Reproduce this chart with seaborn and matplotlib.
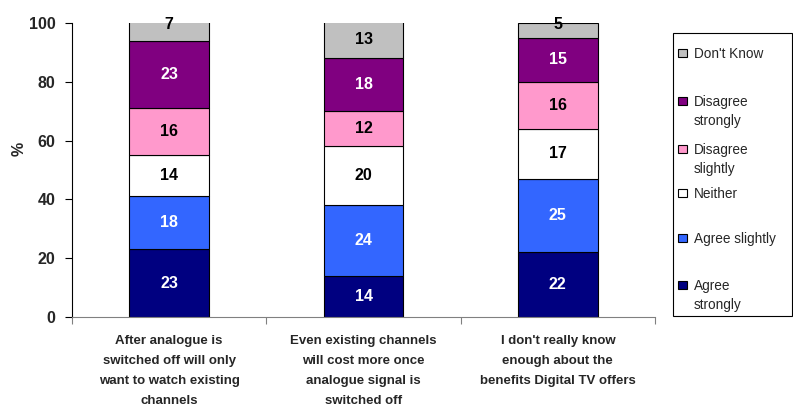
import numpy as np
import pandas as pd
import matplotlib
matplotlib.use("Agg")
import matplotlib.pyplot as plt
from matplotlib.patches import Rectangle
import seaborn as sns

categories = [
    "After analogue is\nswitched off will only\nwant to watch existing\nchannels",
    "Even existing channels\nwill cost more once\nanalogue signal is\nswitched off",
    "I don't really know\nenough about the\nbenefits Digital TV offers",
]
series_names = ["Agree strongly", "Agree slightly", "Neither",
                "Disagree slightly", "Disagree strongly", "Don't Know"]
legend_labels = ["Agree\nstrongly", "Agree slightly", "Neither",
                 "Disagree\nslightly", "Disagree\nstrongly", "Don't Know"]
agree_strongly = [23, 14, 22]
agree_slightly = [18, 24, 25]
neither = [14, 20, 17]
disagree_slightly = [16, 12, 16]
disagree_strongly = [23, 18, 15]
dont_know = [7, 13, 5]
colors = ["#000080", "#3366FF", "#FFFFFF", "#FF99CC", "#800080", "#C0C0C0"]
text_colors = ["white", "white", "black", "black", "white", "black"]
y_ticks = [0, 20, 40, 60, 80, 100]

series = [agree_strongly, agree_slightly, neither,
          disagree_slightly, disagree_strongly, dont_know]

sns.set_style("white")
plt.rcParams["font.family"] = ["Liberation Sans", "DejaVu Sans"]

W, H = 793.0, 411.0
fig = plt.figure(figsize=(W / 100, H / 100), dpi=100)
ax = fig.add_axes([72 / W, 1 - 317 / H, (655 - 72) / W, (317 - 23) / H])

bottom = np.zeros(len(categories))
top_series = len(series) - 1
for k, (name, vals, col, tcol) in enumerate(zip(series_names, series, colors, text_colors)):
    df = pd.DataFrame({"cat": categories, "val": vals})
    sns.barplot(data=df, x="cat", y="val", bottom=bottom.copy(), color=col,
                width=0.41, edgecolor="black", linewidth=0.8, ax=ax,
                saturation=1, legend=False)
    for i, v in enumerate(vals):
        y = bottom[i] + v / 2
        # thin segments at the top of a bar get their label on the top edge
        if k == top_series and v < 10:
            y = 99.5
        ax.text(i, y, f"{v}", ha="center", va="center",
                color=tcol, fontsize=11.5, fontweight="bold", clip_on=False)
    bottom += np.array(vals)

ax.set_ylim(0, 100)
ax.set_xlim(-0.5, 2.5)
ax.set_yticks(y_ticks)
ax.set_yticklabels([str(t) for t in y_ticks], fontsize=11.5, fontweight="bold")
ax.set_ylabel("%", fontsize=11.5, fontweight="bold")
ax.yaxis.set_label_coords(-0.077, 0.57)
ax.set_xlabel("")
ax.set_xticks(range(len(categories)))
ax.set_xticklabels(categories, fontsize=9.5, fontweight="bold", linespacing=1.88)
ax.tick_params(axis="x", which="major", length=0, pad=13)
ax.set_xticks([-0.5, 0.5, 1.5, 2.5], minor=True)
ax.tick_params(axis="x", which="minor", length=5, width=0.8, color="#808080",
               direction="out", bottom=True)
ax.tick_params(axis="y", length=5, width=0.8, color="black", direction="out",
               left=True, pad=7)

for s in ["top", "right"]:
    ax.spines[s].set_visible(False)
ax.spines["left"].set_color("black")
ax.spines["left"].set_linewidth(0.8)
ax.spines["bottom"].set_color("#808080")
ax.spines["bottom"].set_linewidth(0.8)

# legend box with one fixed slot per series, marker level with the first text line
fig.patches.append(Rectangle((673 / W, 1 - 316 / H), (792 - 673) / W, (316 - 33) / H,
                             transform=fig.transFigure, fill=False,
                             edgecolor="black", linewidth=0.8))
slot_rows = [285, 238, 193, 149, 101, 53]
for col, lab, row in zip(colors, legend_labels, slot_rows):
    fig.patches.append(Rectangle((678 / W, 1 - (row + 4) / H), 9 / W, 8 / H,
                                 transform=fig.transFigure, facecolor=col,
                                 edgecolor="black", linewidth=0.8))
    fig.text(694 / W, 1 - (row - 6) / H, lab, fontsize=9.8, ha="left",
             va="top", linespacing=1.45)

fig.savefig("out.png", dpi=100)
